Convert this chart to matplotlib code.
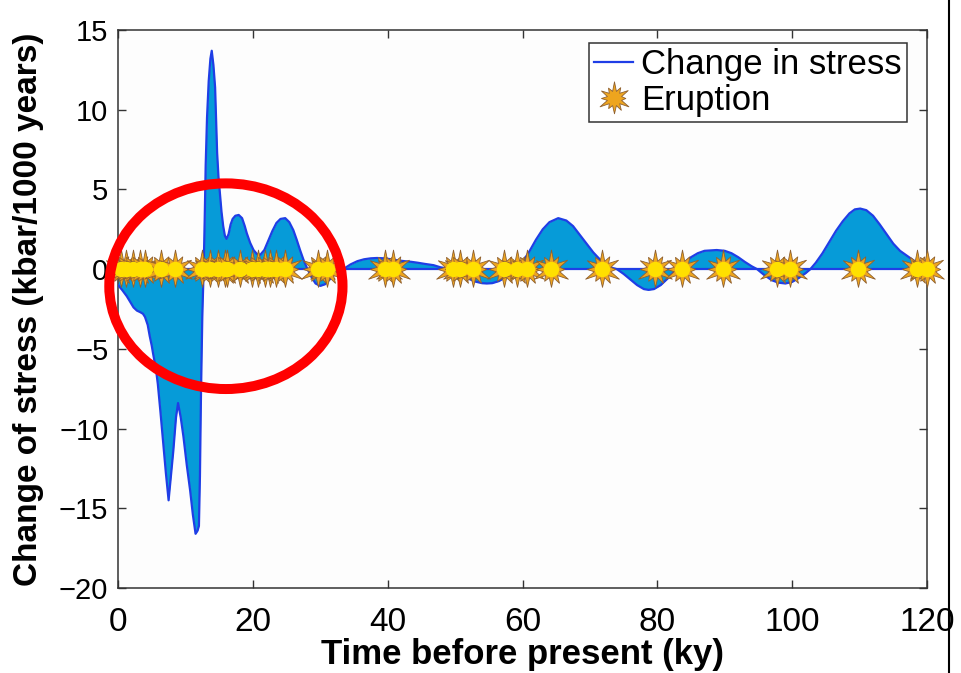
import matplotlib
matplotlib.use("Agg")
import matplotlib.pyplot as plt
import numpy as np
from matplotlib.path import Path
from matplotlib.patches import Ellipse
from matplotlib.lines import Line2D

# stress curve (ky, kbar/1000 yr)
time_ky = [0.0, 0.6, 1.3, 1.8, 2.3, 2.8, 3.3, 3.7, 4.0, 4.4, 4.7, 5.0, 5.2, 5.6, 5.9,
           6.3, 6.7, 7.1, 7.5, 7.8, 8.2, 8.6, 8.9, 9.3, 9.7, 10.2, 10.7, 11.1, 11.5,
           11.8, 12.0, 12.15, 12.3, 12.5, 12.7, 12.85, 13.0, 13.2, 13.45, 13.7, 13.9,
           14.15, 14.4, 14.55, 14.7, 14.9, 15.1, 15.35, 15.6, 15.85, 16.1, 16.4, 16.7,
           17.0, 17.4, 17.9, 18.4, 18.8, 19.1, 19.6, 20.1, 20.6, 21.1, 21.7, 22.3,
           22.9, 23.5, 24.1, 24.8, 25.4, 26.0, 26.5, 27.0, 27.5, 28.0, 28.7, 29.3,
           30.0, 30.7, 31.5, 32.3, 33.4, 34.5, 35.5, 36.5, 37.5, 38.4, 39.5, 40.5,
           41.5, 42.5, 43.5, 44.5, 45.5, 46.8, 47.8, 48.6, 49.3, 50.2, 51.0, 52.0,
           53.0, 54.0, 54.7, 55.5, 56.5, 57.3, 58.2, 59.1, 60.0, 61.0, 62.0, 63.0,
           64.0, 65.3, 66.5, 67.5, 68.5, 69.5, 70.5, 71.5, 72.5, 73.3, 74.0, 75.0,
           76.0, 77.0, 78.0, 78.7, 79.5, 80.5, 81.5, 82.3, 82.9, 84.0, 85.0, 86.0,
           87.0, 88.8, 90.0, 91.0, 92.0, 93.0, 94.0, 94.8, 95.8, 97.0, 98.0, 99.0,
           100.0, 101.0, 102.0, 102.7, 103.5, 104.5, 105.5, 106.5, 107.5, 108.5,
           109.3, 110.1, 111.0, 112.0, 113.0, 114.0, 115.0, 116.0, 117.0, 118.0,
           119.0, 120.0]
stress = [-1.0, -1.3, -1.7, -2.05, -2.4, -2.6, -2.7, -2.8, -3.0, -3.5, -4.2, -4.8,
          -5.3, -6.2, -7.2, -9.0, -10.9, -12.8, -14.5, -13.2, -11.4, -9.3, -8.4,
          -9.3, -10.5, -12.3, -13.9, -15.4, -16.6, -16.4, -16.1, -13.0, -8.0, -3.0,
          0.0, 3.0, 6.5, 9.5, 11.8, 13.2, 13.7, 12.8, 11.4, 9.4, 7.3, 5.8, 4.8, 3.6,
          2.7, 2.1, 1.9, 2.2, 2.8, 3.15, 3.35, 3.4, 3.2, 2.7, 2.25, 1.65, 1.2, 0.95,
          0.9, 1.2, 1.8, 2.4, 2.9, 3.15, 3.2, 2.95, 2.45, 1.85, 1.2, 0.6, 0.1, -0.5,
          -0.9, -1.05, -0.95, -0.6, -0.25, 0.0, 0.3, 0.5, 0.62, 0.68, 0.7, 0.68,
          0.62, 0.55, 0.5, 0.46, 0.4, 0.33, 0.25, 0.12, 0.05, 0.0, -0.15, -0.35,
          -0.6, -0.78, -0.88, -0.9, -0.88, -0.75, -0.55, -0.28, 0.0, 0.45, 1.1,
          1.85, 2.5, 2.95, 3.2, 3.05, 2.7, 2.15, 1.6, 1.05, 0.6, 0.28, 0.08, 0.0,
          -0.3, -0.65, -1.0, -1.25, -1.3, -1.25, -1.0, -0.6, -0.25, 0.0, 0.4, 0.75,
          1.0, 1.15, 1.2, 1.15, 1.0, 0.75, 0.45, 0.18, 0.0, -0.35, -0.7, -0.85,
          -0.9, -0.8, -0.55, -0.25, 0.0, 0.4, 1.0, 1.7, 2.4, 3.0, 3.5, 3.75, 3.8,
          3.7, 3.35, 2.8, 2.2, 1.6, 1.15, 0.85, 0.55, 0.3, 0.15]

# eruption times (ky)
eruptions_ky = [0.5, 1.2, 2.2, 3.2, 4.0, 6.4, 8.4, 12.4, 13.6, 14.8, 15.8, 16.1, 18.1,
                19.8, 20.8, 21.8, 22.6, 23.5, 24.8, 29.7, 31.0, 39.6, 40.8, 49.7, 50.7,
                52.7, 57.2, 59.2, 60.6, 64.3, 71.8, 79.7, 83.6, 89.8, 97.7, 99.7, 109.8,
                118.5, 120.0]

X_TICKS = [0, 20, 40, 60, 80, 100, 120]
Y_TICKS = [-20, -15, -10, -5, 0, 5, 10, 15]

LINE_COLOR = "#1f3ee6"
FILL_COLOR = "#069bd8"
BURST_FACE = "#eea51e"
BURST_EDGE = "#8f6030"
BURST_CORE = "#ffe000"

plt.rcParams["font.family"] = ["Liberation Sans", "DejaVu Sans"]


def burst_marker(n=12, inner=0.44):
    # irregular starburst shape for the eruption symbol
    radii = [1.0, 0.75, 0.95, 0.68, 1.0, 0.82, 0.92, 0.7, 1.0, 0.78, 0.9, 0.72]
    verts = []
    for i in range(n):
        a0 = 2 * np.pi * i / n
        a1 = 2 * np.pi * (i + 0.5) / n
        r = radii[i % len(radii)]
        verts.append((r * np.sin(a0), r * np.cos(a0)))
        verts.append((inner * np.sin(a1), inner * np.cos(a1)))
    verts.append(verts[0])
    codes = [Path.MOVETO] + [Path.LINETO] * (len(verts) - 2) + [Path.CLOSEPOLY]
    return Path(verts, codes)


BURST = burst_marker()

fig = plt.figure(figsize=(9.62, 6.73), dpi=100)
ax = fig.add_axes([0.1227, 0.1263, 0.8409, 0.8291])

t = np.array(time_ky)
s = np.array(stress)
ax.fill_between(t, s, 0, color=FILL_COLOR, linewidth=0, zorder=1)
ax.axhline(0, color=LINE_COLOR, linewidth=1.6, zorder=2)
ax.plot(t, s, color=LINE_COLOR, linewidth=1.6, zorder=3)

ey = np.zeros(len(eruptions_ky))
ax.plot(eruptions_ky, ey, linestyle="none", marker=BURST, markersize=28,
        markerfacecolor=BURST_FACE, markeredgecolor=BURST_EDGE, markeredgewidth=0.6,
        zorder=4, clip_on=False)
ax.plot(eruptions_ky, ey, linestyle="none", marker="o", markersize=11,
        markerfacecolor=BURST_CORE, markeredgewidth=0, zorder=5, clip_on=False)

ell = Ellipse((16.0, -1.07), 34.6, 12.9, fill=False, edgecolor="#ff0000",
              linewidth=7.2, zorder=6, clip_on=False)
ax.add_patch(ell)

ax.set_xlim(0, 120)
ax.set_ylim(-20, 15)
ax.set_xticks(X_TICKS)
ax.set_yticks(Y_TICKS)
ax.set_yticklabels([str(v).replace("-", "\u2212") for v in Y_TICKS])
ax.set_xticklabels([str(v) for v in X_TICKS], fontsize=24)

ax.tick_params(direction="in", length=6, width=1.0, top=True, right=True,
               color="#333333")
ax.tick_params(axis="y", labelsize=21, pad=7)
ax.tick_params(axis="x", pad=14)
for sp in ax.spines.values():
    sp.set_linewidth(1.1)
    sp.set_color("#333333")
ax.set_facecolor("#fdfdfd")

ax.set_xlabel("Time before present (ky)", fontsize=25, fontweight="bold", labelpad=0)
ax.set_ylabel("Change of stress (kbar/1000 years)", fontsize=24, fontweight="bold")
ax.yaxis.set_label_coords(-0.092, 0.5)

h_line = Line2D([], [], color=LINE_COLOR, linewidth=1.6)
h_burst = Line2D([], [], linestyle="none", marker=BURST, markersize=24,
                 markerfacecolor=BURST_FACE, markeredgecolor=BURST_EDGE,
                 markeredgewidth=0.6)
leg = ax.legend([h_line, h_burst], ["Change in stress", "Eruption"], loc="upper right",
                bbox_to_anchor=(0.9753, 0.9772), borderaxespad=0,
                fontsize=25, frameon=True, fancybox=False, framealpha=1,
                edgecolor="#333333", handlelength=1.12, handletextpad=0.23,
                borderpad=0.15, labelspacing=0.08)
leg.get_frame().set_linewidth(1.1)
leg.set_zorder(7)

fig.add_artist(Line2D([0.987, 0.987], [0, 1], transform=fig.transFigure,
                      color="black", linewidth=1.5))

fig.savefig("out.png", dpi=100)
